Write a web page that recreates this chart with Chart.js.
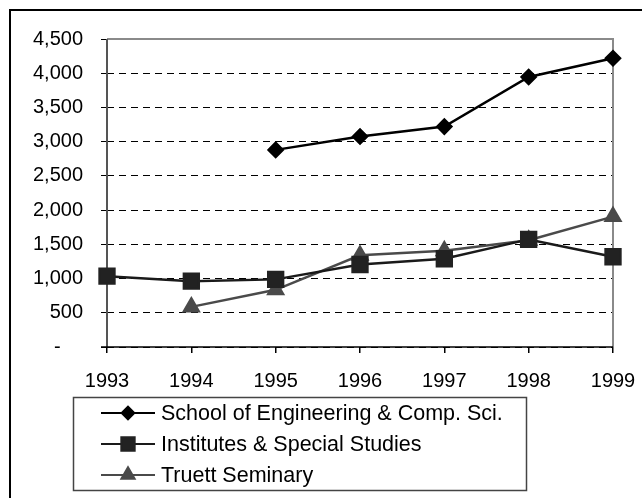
<!DOCTYPE html>
<html lang="en">
<head>
    <meta charset="UTF-8" />
    <title>Enrollment chart</title>
    <script src="https://cdn.jsdelivr.net/npm/chart.js@4"></script>
    <style>
        body { margin: 0; background: #fff; }
        canvas { display: block; }
    </style>
</head>
<body>
    <canvas id="chart" width="642" height="498"></canvas>

    <script>
        // data
        const years = ['1993', '1994', '1995', '1996', '1997', '1998', '1999'];
        const engineering = [null, null, 2880, 3075, 3220, 3945, 4220];
        const institutes = [1035, 962, 988, 1206, 1290, 1572, 1318];
        const truett = [null, 586, 835, 1340, 1405, 1560, 1905];
        const seriesNames = ['School of Engineering & Comp. Sci.', 'Institutes & Special Studies', 'Truett Seminary'];
        const yMax = 4500;
        const yStep = 500;

        Chart.defaults.font.family = 'Arial, "Liberation Sans", sans-serif';
        Chart.defaults.font.size = 20;
        Chart.defaults.color = '#000';

        // plot frame, outer border and the boxed legend
        const framePlugin = {
            id: 'frame',
            beforeDatasetsDraw(chart) {
                const ctx = chart.ctx;
                const a = chart.chartArea;
                ctx.save();
                ctx.lineWidth = 2;
                ctx.strokeStyle = '#8a8a8a';
                ctx.beginPath();
                ctx.moveTo(a.left, a.top);
                ctx.lineTo(a.right, a.top);
                ctx.lineTo(a.right, a.bottom);
                ctx.stroke();
                ctx.strokeStyle = '#555';
                ctx.beginPath();
                ctx.moveTo(a.left, a.top);
                ctx.lineTo(a.left, a.bottom);
                ctx.stroke();
                ctx.strokeStyle = '#000';
                ctx.lineWidth = 1.5;
                ctx.beginPath();
                ctx.moveTo(a.left - 6, a.bottom);
                ctx.lineTo(a.right, a.bottom);
                ctx.stroke();
                ctx.restore();
            },
            afterDraw(chart) {
                const ctx = chart.ctx;
                ctx.save();
                // outer border (only top and left are in view)
                ctx.strokeStyle = '#000';
                ctx.lineWidth = 2;
                ctx.beginPath();
                ctx.moveTo(10, chart.height);
                ctx.lineTo(10, 10);
                ctx.lineTo(chart.width, 10);
                ctx.stroke();

                // legend box
                ctx.strokeStyle = '#444';
                ctx.lineWidth = 1.5;
                ctx.strokeRect(73.5, 397.5, 453, 93);

                const rows = [413, 444, 475];
                ctx.font = '21.5px Arial, "Liberation Sans", sans-serif';
                ctx.textBaseline = 'middle';
                ctx.textAlign = 'left';
                chart.data.datasets.forEach((ds, i) => {
                    const y = rows[i];
                    ctx.strokeStyle = ds.borderColor;
                    ctx.lineWidth = 2;
                    ctx.beginPath();
                    ctx.moveTo(101, y);
                    ctx.lineTo(155, y);
                    ctx.stroke();
                    ctx.fillStyle = ds.pointBackgroundColor;
                    ctx.strokeStyle = ds.pointBackgroundColor;
                    Chart.helpers.drawPoint(ctx, {
                        pointStyle: ds.pointStyle,
                        radius: ds.pointRadius * 0.9,
                        rotation: 0,
                        borderWidth: 1
                    }, 128, y);
                    ctx.fillStyle = '#000';
                    ctx.fillText(ds.label, 161, y + 1);
                });
                ctx.restore();
            }
        };

        const ctx = document.getElementById('chart').getContext('2d');
        const chart = new Chart(ctx, {
            type: 'line',
            data: {
                labels: years,
                datasets: [{
                    label: seriesNames[0],
                    data: engineering,
                    borderColor: '#000',
                    pointBackgroundColor: '#000',
                    pointBorderColor: '#000',
                    pointStyle: 'rectRot',
                    pointRadius: 7,
                    borderWidth: 2.5
                }, {
                    label: seriesNames[1],
                    data: institutes,
                    borderColor: '#1a1a1a',
                    pointBackgroundColor: '#222',
                    pointBorderColor: '#222',
                    pointStyle: 'rect',
                    pointRadius: 10.5,
                    borderWidth: 2.5
                }, {
                    label: seriesNames[2],
                    data: truett,
                    borderColor: '#4a4a4a',
                    pointBackgroundColor: '#4a4a4a',
                    pointBorderColor: '#4a4a4a',
                    pointStyle: 'triangle',
                    pointRadius: 8.5,
                    borderWidth: 2.5
                }]
            },
            options: {
                responsive: false,
                animation: false,
                spanGaps: false,
                layout: { padding: { top: 39, right: 29, left: 0, bottom: 0 } },
                plugins: {
                    legend: { display: false },
                    tooltip: { enabled: false }
                },
                scales: {
                    x: {
                        offset: false,
                        grid: { drawOnChartArea: false, drawTicks: true, tickLength: 6, color: '#000', lineWidth: 1.5 },
                        border: { display: false },
                        ticks: { padding: 16, maxRotation: 0 },
                        afterFit(scale) {
                            scale.height = 151;
                            scale.paddingLeft = 0;
                            scale.paddingRight = 0;
                        }
                    },
                    y: {
                        min: 0,
                        max: yMax,
                        grid: { color: '#000', lineWidth: 1, tickLength: 6, tickColor: '#000' },
                        border: { display: false, dash: [7, 5] },
                        ticks: {
                            stepSize: yStep,
                            padding: 18,
                            callback: v => v === 0 ? '-\u2007\u2007' : v.toLocaleString('en-US')
                        },
                        afterFit(scale) {
                            scale.width = 107;
                            scale.paddingTop = 0;
                            scale.paddingBottom = 0;
                        }
                    }
                }
            },
            plugins: [framePlugin]
        });
    </script>
</body>
</html>
